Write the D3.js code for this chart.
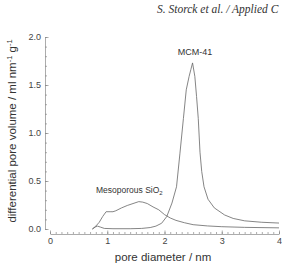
<!DOCTYPE html>
<html>
<head>
<meta charset="utf-8">
<script src="https://cdn.jsdelivr.net/npm/d3@7"></script>
<style>
  body { margin: 0; background: #fff; }
  svg { display: block; }
  .tick text { font-family: "Liberation Sans", Arial, sans-serif; font-size: 9px; fill: #444; }
</style>
</head>
<body>
<div class="chart"></div>
<script>
var svgWidth = 282;
var svgHeight = 264;

// data
var mesoDiameter = [0.74, 0.8, 0.86, 0.92, 0.98, 1.05, 1.1, 1.15, 1.25, 1.35, 1.45, 1.55, 1.62, 1.7, 1.8, 1.9, 2.0, 2.1, 2.2, 2.35, 2.5, 2.75, 3.0, 3.4, 4.0];
var mesoVolume = [0, 0.03, 0.07, 0.13, 0.18, 0.18, 0.18, 0.19, 0.22, 0.245, 0.265, 0.285, 0.28, 0.265, 0.23, 0.2, 0.15, 0.115, 0.09, 0.065, 0.045, 0.032, 0.024, 0.017, 0.012];

var mcmDiameter = [0.74, 0.79, 0.83, 0.88, 0.95, 1.1, 1.4, 1.6, 1.75, 1.85, 1.95, 2.04, 2.13, 2.21, 2.27, 2.33, 2.38, 2.43, 2.46, 2.49, 2.53, 2.56, 2.59, 2.62, 2.65, 2.69, 2.76, 2.87, 3.05, 3.2, 3.4, 3.7, 4.0];
var mcmVolume = [0, 0.02, 0.03, 0.02, 0.006, 0.003, 0.003, 0.006, 0.015, 0.03, 0.06, 0.13, 0.27, 0.44, 0.79, 1.15, 1.45, 1.59, 1.66, 1.73, 1.59, 1.38, 1.15, 0.8, 0.6, 0.44, 0.31, 0.22, 0.146, 0.11, 0.085, 0.07, 0.062];

var xTicks = [0, 1, 2, 3, 4];
var yTicks = [0.0, 0.5, 1.0, 1.5, 2.0];

var svg = d3.select(".chart")
  .append("svg")
  .attr("width", svgWidth)
  .attr("height", svgHeight);

var x = d3.scaleLinear().domain([0, 4]).range([50, 279]);
var y = d3.scaleLinear().domain([0, 2]).range([229, 37]);

// header line of the journal page
svg.append("text")
  .attr("x", 157)
  .attr("y", 13)
  .attr("font-family", "Liberation Serif, Times New Roman, serif")
  .attr("font-style", "italic")
  .attr("font-size", 11.5)
  .attr("fill", "#333")
  .text("S. Storck et al. / Applied C");

// y axis, ticks pointing inward
var yMinor = d3.range(0, 2.001, 0.1);
svg.append("g")
  .attr("transform", "translate(45,0)")
  .call(d3.axisLeft(y).tickValues(yMinor).tickSizeInner(-2).tickSizeOuter(0).tickFormat(""))
  .call(g => g.selectAll("line, path").attr("stroke", "#888").attr("stroke-width", 0.7));
svg.append("g")
  .attr("transform", "translate(45,0)")
  .call(d3.axisLeft(y).tickValues(yTicks).tickSizeInner(-3.5).tickSizeOuter(0).tickPadding(4).tickFormat(d3.format(".1f")))
  .call(g => g.select(".domain").remove())
  .call(g => g.selectAll("line").attr("stroke", "#888").attr("stroke-width", 0.7));

// x axis, detached below the plot
var xMinor = d3.range(0, 4.001, 0.1);
svg.append("g")
  .attr("transform", "translate(0,234)")
  .call(d3.axisBottom(x).tickValues(xMinor).tickSizeInner(-2).tickSizeOuter(0).tickFormat(""))
  .call(g => g.selectAll("line, path").attr("stroke", "#888").attr("stroke-width", 0.7));
svg.append("g")
  .attr("transform", "translate(0,234)")
  .call(d3.axisBottom(x).tickValues(xTicks).tickSizeInner(-3.5).tickSizeOuter(0).tickPadding(4).tickFormat(d3.format("d")))
  .call(g => g.select(".domain").remove())
  .call(g => g.selectAll("line").attr("stroke", "#888").attr("stroke-width", 0.7));

// curves
var line = d3.line()
  .x(d => x(d[0]))
  .y(d => y(d[1]));

svg.append("path")
  .datum(d3.zip(mesoDiameter, mesoVolume))
  .attr("d", line)
  .attr("fill", "none")
  .attr("stroke", "#666")
  .attr("stroke-width", 0.8);

svg.append("path")
  .datum(d3.zip(mcmDiameter, mcmVolume))
  .attr("d", line)
  .attr("fill", "none")
  .attr("stroke", "#666")
  .attr("stroke-width", 0.8);

// curve labels
svg.append("text")
  .attr("x", 195)
  .attr("y", 55)
  .attr("text-anchor", "middle")
  .attr("font-family", "Liberation Sans, Arial, sans-serif")
  .attr("font-size", 9)
  .attr("fill", "#333")
  .text("MCM-41");

var meso = svg.append("text")
  .attr("x", 96)
  .attr("y", 193)
  .attr("font-family", "Liberation Sans, Arial, sans-serif")
  .attr("font-size", 8.5)
  .attr("fill", "#333");
meso.append("tspan").text("Mesoporous SiO");
meso.append("tspan").attr("dy", 2).attr("font-size", 6).text("2");

// axis titles
svg.append("text")
  .attr("x", 163)
  .attr("y", 261)
  .attr("text-anchor", "middle")
  .attr("font-family", "Liberation Sans, Arial, sans-serif")
  .attr("font-size", 11.5)
  .attr("fill", "#333")
  .text("pore diameter / nm");

var yTitle = svg.append("text")
  .attr("transform", "translate(16,131) rotate(-90)")
  .attr("text-anchor", "middle")
  .attr("font-family", "Liberation Sans, Arial, sans-serif")
  .attr("font-size", 11.5)
  .attr("fill", "#333");
yTitle.append("tspan").text("differential pore volume / ml nm");
yTitle.append("tspan").attr("dy", -4).attr("font-size", 7.5).text("-1");
yTitle.append("tspan").attr("dy", 4).text(" g");
yTitle.append("tspan").attr("dy", -4).attr("font-size", 7.5).text("-1");
</script>
</body>
</html>
